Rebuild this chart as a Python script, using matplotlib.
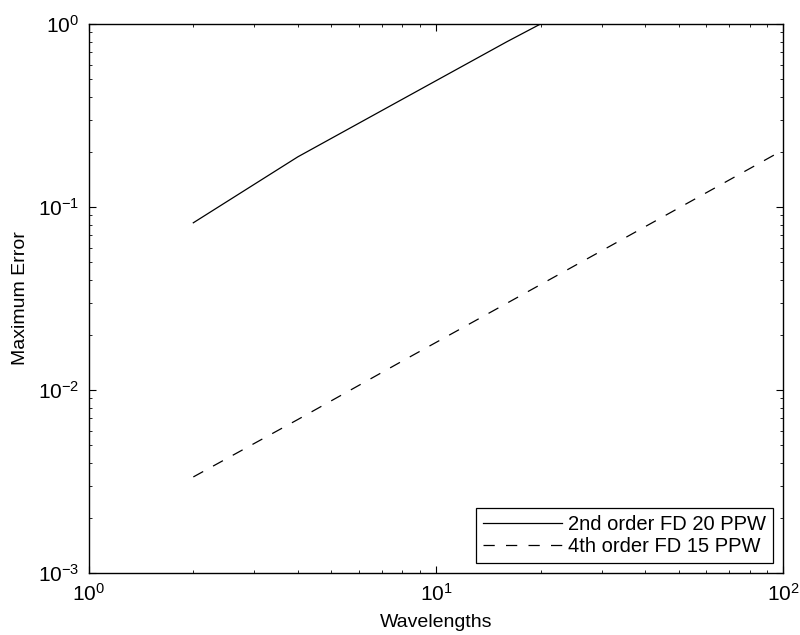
import matplotlib
matplotlib.use("Agg")
import matplotlib.pyplot as plt

plt.rcParams['font.family'] = ['Liberation Sans', 'DejaVu Sans']
plt.rcParams['mathtext.fontset'] = 'custom'
plt.rcParams['mathtext.rm'] = 'Liberation Sans'
plt.rcParams['mathtext.it'] = 'Liberation Sans:italic'
plt.rcParams['mathtext.bf'] = 'Liberation Sans:bold'

# values
wavelengths_2nd = [2, 4, 8, 16, 32]
error_2nd = [0.082, 0.188, 0.388, 0.80, 1.6]

wavelengths_4th = [2, 4, 8, 16, 32, 64, 100]
error_4th = [0.00335, 0.0069, 0.0144, 0.0298, 0.0617, 0.128, 0.205]

labels = ['2nd order FD 20 PPW', '4th order FD 15 PPW']

fig = plt.figure(figsize=(8, 6.35), dpi=100)
ax = fig.add_axes([0.111, 0.0976, 0.868, 0.8646])

ax.loglog(wavelengths_2nd, error_2nd, color='black', lw=0.9, label=labels[0])
ax.loglog(wavelengths_4th, error_4th, color='black', lw=0.9,
          linestyle=(0, (9, 9)), label=labels[1])

ax.set_xlim(1, 100)
ax.set_ylim(1e-3, 1)
ax.set_xlabel('Wavelengths', fontsize=14, labelpad=7)
ax.set_ylabel('Maximum Error', fontsize=14, labelpad=6)

ax.tick_params(which='both', direction='in', top=True, right=True, labelsize=15)
ax.tick_params(which='major', length=5, width=0.8, pad=7)
ax.tick_params(which='minor', length=2.5, width=0.6)
for s in ax.spines.values():
    s.set_linewidth(1.0)

leg = ax.legend(loc='lower right', fontsize=14.5, handlelength=3.9,
                handletextpad=0.3, fancybox=False, edgecolor='black',
                framealpha=1, borderaxespad=0.5, labelspacing=0.15,
                borderpad=0.35)
leg.get_frame().set_linewidth(0.9)

fig.savefig('out.png', dpi=100)
